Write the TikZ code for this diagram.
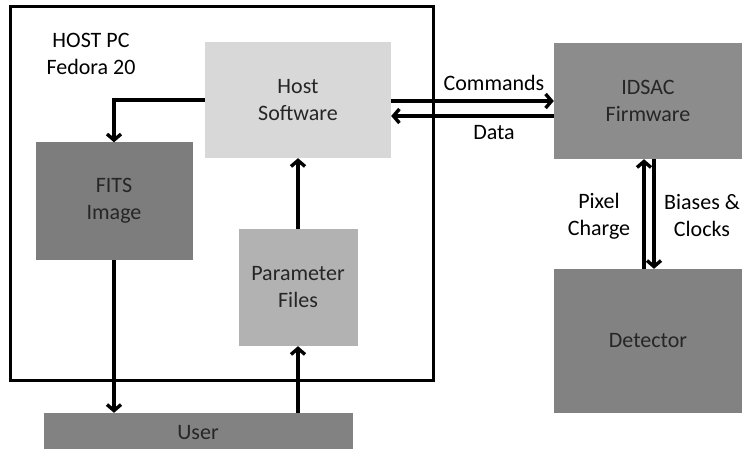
\documentclass[tikz,border=0pt]{standalone}
\usepackage{fontspec}
\setmainfont{Carlito}
\usetikzlibrary{arrows.meta}
\definecolor{swgray}{HTML}{D8D8D8}
\definecolor{fitsgray}{HTML}{7D7D7D}
\definecolor{pargray}{HTML}{B2B2B2}
\definecolor{fwgray}{HTML}{8C8C8C}
\definecolor{detgray}{HTML}{828282}
\tikzset{
  block/.style={inner sep=0pt, align=center, text=black!85,
    font=\fontsize{22}{27}\selectfont},
  link/.style={line width=3.4pt, -{Straight Barb[length=6pt,width=14pt]}},
  lbl/.style={align=center, font=\fontsize{22}{27}\selectfont}
}
\begin{document}
\begin{tikzpicture}[x=1pt,y=-1pt]
    \useasboundingbox (0,0) rectangle (744,449);
    % host pc frame
    \draw[line width=3pt] (10,7) rectangle (433,380);
    \node[lbl] (hostpc) at (91,54) {HOST PC\\Fedora 20};
    % blocks
    \node[block, fill=swgray, minimum width=186pt, minimum height=116pt] (hostsw) at (298,100) {Host\\Software};
    \node[block, fill=fitsgray, minimum width=157pt, minimum height=117pt] (fits) at (114,201) {FITS\\Image};
    \node[block, fill=pargray, minimum width=119pt, minimum height=117pt] (param) at (298,287.5) {Parameter\\Files};
    \node[block, fill=detgray, minimum width=309pt, minimum height=40pt] (user) at (198,433) {User};
    \node[block, fill=fwgray, minimum width=188pt, minimum height=116pt] (idsac) at (648,101) {IDSAC\\Firmware};
    \node[block, fill=detgray, minimum width=188pt, minimum height=144pt] (det) at (648,341) {Detector};
    % connectors
    \draw[link] (hostsw.west) -| (fits.north);
    \draw[link] (fits.south) -- (fits.south |- user.north);
    \draw[link] (param.south |- user.north) -- (param.south);
    \draw[link] (param.north) -- (hostsw.south);
    \draw[link] (hostsw.east |- idsac.west) -- (idsac.west);
    \draw[link] ([yshift=-15pt]idsac.west) -- ([yshift=-15pt]idsac.west -| hostsw.east);
    \draw[link] ([xshift=-4pt]det.north) -- ([xshift=-4pt]idsac.south);
    \draw[link] ([xshift=6pt]idsac.south) -- ([xshift=6pt]det.north);
    % labels
    \node[lbl] (cmd) at (494,83) {Commands};
    \node[lbl] (data) at (494,133) {Data};
    \node[lbl] (pix) at (599,216) {Pixel\\Charge};
    \node[lbl] (bias) at (702,216) {Biases \&\\Clocks};
\end{tikzpicture}
\end{document}
